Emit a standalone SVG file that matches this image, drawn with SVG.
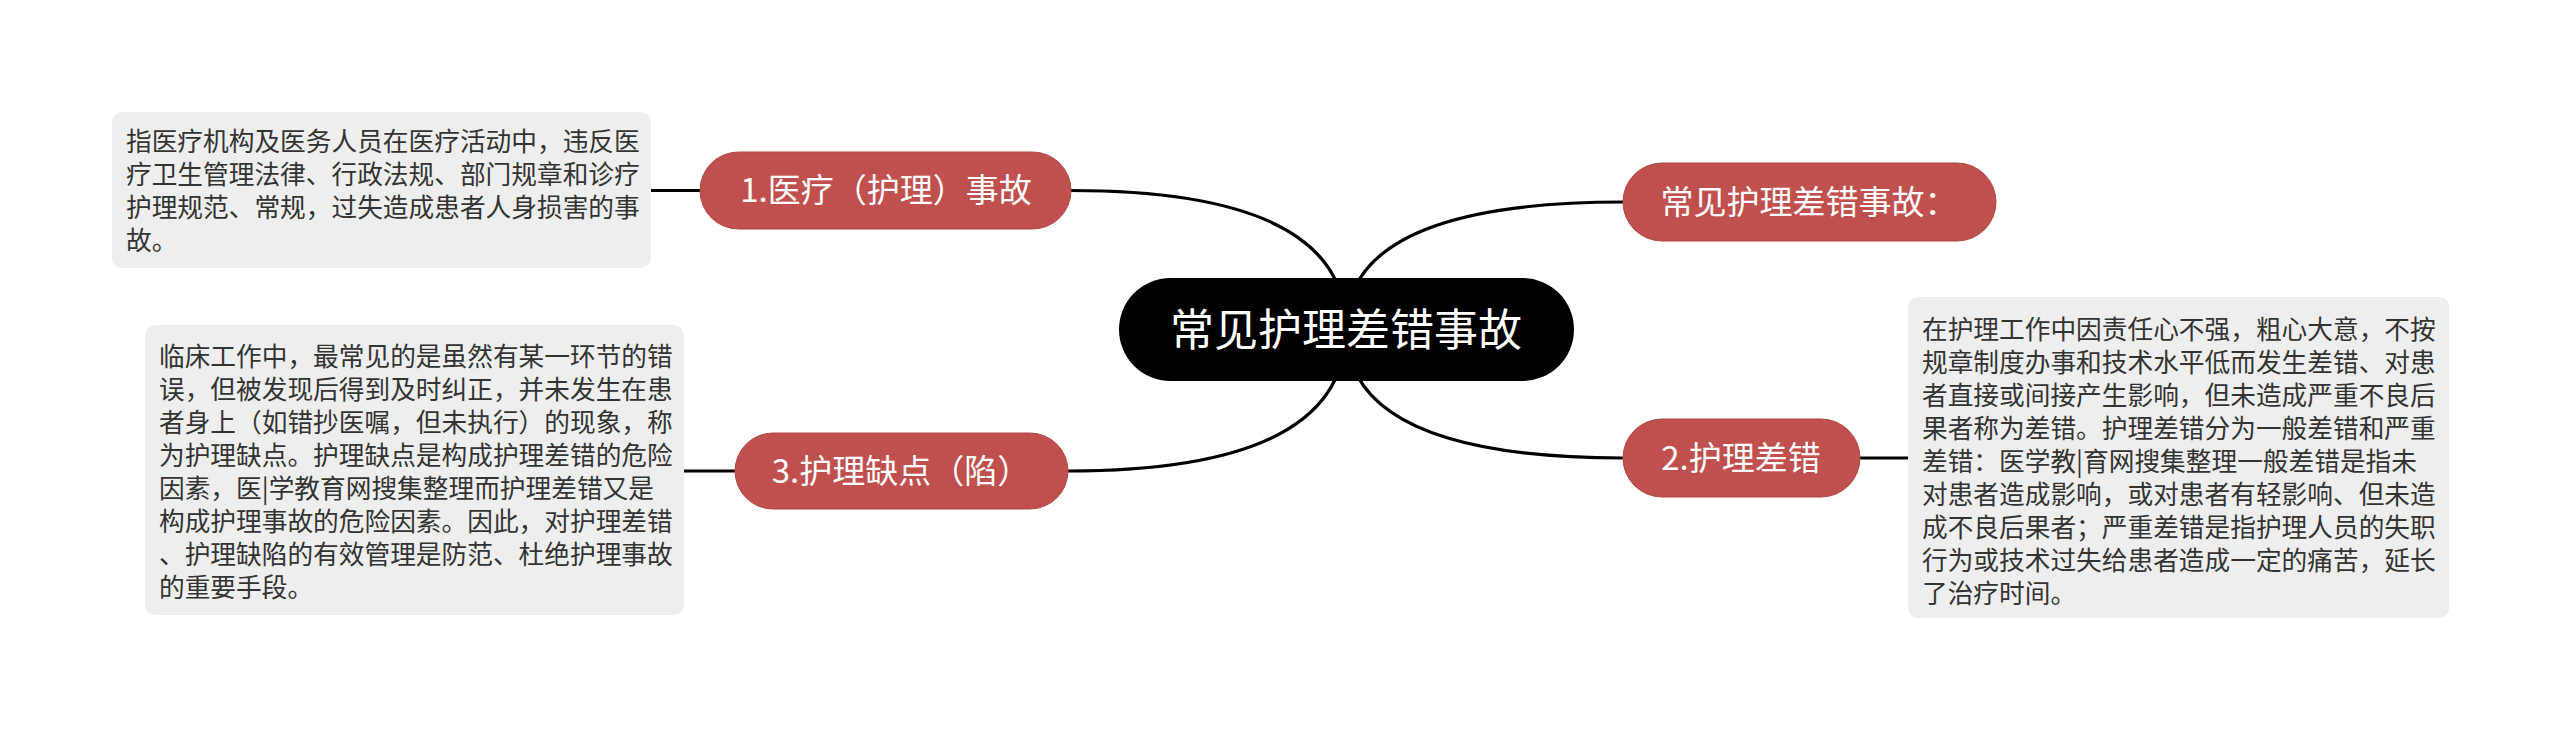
<svg xmlns="http://www.w3.org/2000/svg" width="2560" height="731" viewBox="0 0 2560 731">
<style>
.edge{fill:none;stroke:#000;stroke-width:3.2}
.root{fill:#000}
.rootText{fill:#fff;font-family:"Noto Sans CJK SC","Noto Sans",sans-serif;font-size:44px;text-anchor:middle}
.branch{fill:#c0504d;stroke:#b34643;stroke-width:1}
.branchText{fill:#fff;font-family:"Noto Sans CJK SC","Noto Sans",sans-serif;font-size:33px;text-anchor:middle}
.box{fill:#eeeeee}
.boxText{fill:#333;font-family:"Noto Sans CJK SC","Noto Sans",sans-serif;font-size:25.7px}
</style>
<rect width="2560" height="731" fill="#fff"/>
<g id="connectors">
<path class="edge" d="M1346 329 Q1346 190.5 1071 190.5"/>
<path class="edge" d="M1346 329 Q1346 202 1623 202"/>
<path class="edge" d="M1346 329 Q1346 458 1623 458"/>
<path class="edge" d="M1346 329 Q1346 471 1068 471"/>
<path class="edge" d="M700 190.5 L651 190.5"/>
<path class="edge" d="M735 471 L684 471"/>
<path class="edge" d="M1860 458 L1908 458"/>
</g>
<g id="box1">
<rect class="box" x="112" y="112" width="539" height="156" rx="10"/>
<text class="boxText" x="126"><tspan x="126" y="151">指医疗机构及医务人员在医疗活动中，违反医</tspan><tspan x="126" y="184">疗卫生管理法律、行政法规、部门规章和诊疗</tspan><tspan x="126" y="217">护理规范、常规，过失造成患者人身损害的事</tspan><tspan x="126" y="250">故。</tspan></text>
</g>
<g id="box3">
<rect class="box" x="145" y="325" width="539" height="290" rx="10"/>
<text class="boxText"><tspan x="159" y="366">临床工作中，最常见的是虽然有某一环节的错</tspan><tspan x="159" y="399">误，但被发现后得到及时纠正，并未发生在患</tspan><tspan x="159" y="432">者身上（如错抄医嘱，但未执行）的现象，称</tspan><tspan x="159" y="465">为护理缺点。护理缺点是构成护理差错的危险</tspan><tspan x="159" y="498">因素，医|学教育网搜集整理而护理差错又是</tspan><tspan x="159" y="531">构成护理事故的危险因素。因此，对护理差错</tspan><tspan x="159" y="564">、护理缺陷的有效管理是防范、杜绝护理事故</tspan><tspan x="159" y="597">的重要手段。</tspan></text>
</g>
<g id="box2">
<rect class="box" x="1908" y="297" width="541" height="321" rx="10"/>
<text class="boxText"><tspan x="1922" y="339">在护理工作中因责任心不强，粗心大意，不按</tspan><tspan x="1922" y="372">规章制度办事和技术水平低而发生差错、对患</tspan><tspan x="1922" y="405">者直接或间接产生影响，但未造成严重不良后</tspan><tspan x="1922" y="438">果者称为差错。护理差错分为一般差错和严重</tspan><tspan x="1922" y="471">差错：医学教|育网搜集整理一般差错是指未</tspan><tspan x="1922" y="504">对患者造成影响，或对患者有轻影响、但未造</tspan><tspan x="1922" y="537">成不良后果者；严重差错是指护理人员的失职</tspan><tspan x="1922" y="570">行为或技术过失给患者造成一定的痛苦，延长</tspan><tspan x="1922" y="603">了治疗时间。</tspan></text>
</g>
<g id="root">
<rect class="root" x="1119" y="278" width="455" height="103" rx="51.5"/>
<text class="rootText" x="1346" y="346">常见护理差错事故</text>
</g>
<g id="node-common">
<rect class="branch" x="1623" y="163" width="373" height="78" rx="39"/>
<text class="branchText" x="1809" y="214">常见护理差错事故：</text>
</g>
<g id="node-1">
<rect class="branch" x="700" y="152" width="371" height="77" rx="38.5"/>
<text class="branchText" x="886" y="202">1.医疗（护理）事故</text>
</g>
<g id="node-3">
<rect class="branch" x="735" y="433" width="333" height="76" rx="38"/>
<text class="branchText" x="901" y="483">3.护理缺点（陷）</text>
</g>
<g id="node-2">
<rect class="branch" x="1623" y="419" width="237" height="78" rx="39"/>
<text class="branchText" x="1741" y="470">2.护理差错</text>
</g>
</svg>
